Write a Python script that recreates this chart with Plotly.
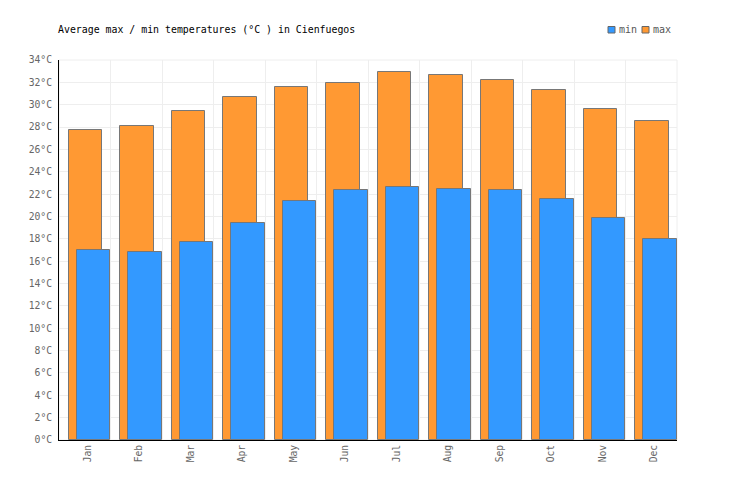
import plotly.graph_objects as go

months = ["Jan", "Feb", "Mar", "Apr", "May", "Jun", "Jul", "Aug", "Sep", "Oct", "Nov", "Dec"]
max_temps = [27.7, 28.1, 29.4, 30.7, 31.6, 31.9, 32.9, 32.7, 32.2, 31.3, 29.6, 28.5]
min_temps = [17.0, 16.8, 17.7, 19.4, 21.4, 22.4, 22.6, 22.5, 22.4, 21.6, 19.9, 18.0]
y_ticks = list(range(0, 35, 2))
y_tick_text = [f"{v}°C" for v in y_ticks]
series_names = ["min", "max"]
series_colors = ["#3399FF", "#FF9933"]

FONT = "DejaVu Sans Mono"
W, H = 736, 500
L, R, T, B = 59, 59, 60, 60
PW, PH = W - L - R, H - T - B

fig = go.Figure()
fig.add_trace(go.Bar(
    x=months, y=max_temps, name="max", showlegend=False,
    marker=dict(color="#FF9933", line=dict(color="#777777", width=1)),
    width=0.652, offset=-0.312,
))
fig.add_trace(go.Bar(
    x=months, y=min_temps, name="min", showlegend=False,
    marker=dict(color="#3399FF", line=dict(color="#777777", width=1)),
    width=0.652, offset=-0.156,
))

fig.update_layout(
    width=W, height=H,
    barmode="overlay",
    paper_bgcolor="white", plot_bgcolor="white",
    margin=dict(l=L, r=R, t=T, b=B, autoexpand=False),
    font=dict(family=FONT, size=10, color="#555555"),
    title=dict(text="Average max / min temperatures (°C ) in Cienfuegos",
               x=58/W, xanchor="left", xref="container", y=1-30/H, yanchor="middle",
               font=dict(family=FONT, size=9.9, color="#000000")),
    showlegend=False,
    bargap=0,
)

def px_x(p):
    return (p - L) / PW

def px_y(p):
    return (H - B - p) / PH

legend_box_x = [608, 642]
for name, color, bx in zip(series_names, series_colors, legend_box_x):
    fig.add_shape(type="rect", xref="paper", yref="paper",
                  x0=px_x(bx), x1=px_x(bx + 7), y0=px_y(33), y1=px_y(26.5),
                  line=dict(color="#666666", width=1), fillcolor=color)
    fig.add_annotation(xref="paper", yref="paper", x=px_x(bx + 9), y=px_y(30),
                       xanchor="left", yanchor="middle", showarrow=False,
                       text=name, font=dict(family=FONT, size=10, color="#555555"))

fig.update_xaxes(
    type="category", range=[-0.5, 11.5], tickson="boundaries",
    showgrid=True, gridcolor="#EEEEEE", gridwidth=1,
    showline=True, linecolor="#000000", linewidth=1, mirror=False,
    ticks="", tickangle=-90, ticklabelshift=3,
    tickfont=dict(family=FONT, size=9.7, color="#666666"),
    zeroline=False, automargin=False,
)
fig.update_yaxes(
    range=[0, 34], tickvals=y_ticks, ticktext=y_tick_text,
    showgrid=True, gridcolor="#EEEEEE", gridwidth=1,
    showline=True, linecolor="#000000", linewidth=1,
    ticks="", ticklabelstandoff=4, tickfont=dict(family=FONT, size=9.7, color="#666666"),
    zeroline=False, automargin=False,
)
fig.add_shape(type="rect", xref="paper", yref="paper", x0=0, x1=1, y0=0, y1=1,
              line=dict(color="#EEEEEE", width=1), layer="below")

fig.write_html("out.html", config={"displayModeBar": False},
               post_script="document.body.style.margin='0px';document.body.style.overflow='hidden';")
